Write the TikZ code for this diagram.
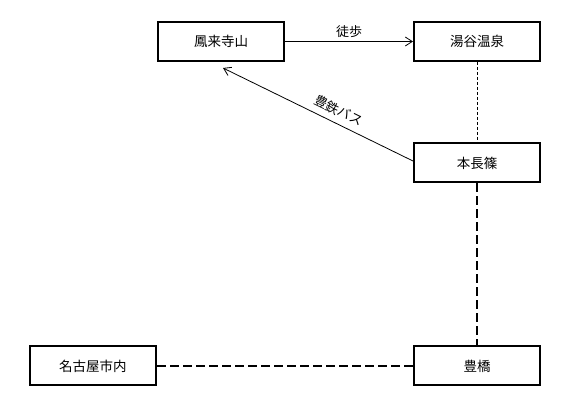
\documentclass[tikz,border=0pt]{standalone}
\usepackage{fontspec}
\setmainfont{Noto Sans CJK JP}
\usetikzlibrary{arrows.meta}

\begin{document}
\begin{tikzpicture}[x=1pt,y=-1pt,->,>={Straight Barb[length=7pt,width=9pt]},
    station/.style={draw,line width=2pt,minimum width=126pt,minimum height=39pt,inner sep=0pt,font=\fontsize{13.5}{16}\selectfont},
    route/.style={line width=0.8pt},
    walkway/.style={-,line width=0.8pt,dash pattern=on 3pt off 2pt},
    railway/.style={-,line width=2.4pt,dash pattern=on 9pt off 4pt}]
      \useasboundingbox (0,0) rectangle (566,411);
      \node[station] (horaiji) at (221,41.5) {鳳来寺山}; \node[station] (yuya) at (477,41.5) {湯谷温泉};
      \node[station] (honnagashino) at (477,163) {本長篠};
      \node[station] (nagoya) at (93,366) {名古屋市内}; \node[station] (toyohashi) at (477,366) {豊橋};
      \coordinate (busend) at (223,68);
      \draw[route] (horaiji) -- node[above,font=\fontsize{13}{15}\selectfont] {徒歩} (yuya);
      \draw[route] ([yshift=2pt]honnagashino.west) -- node[pos=0.42,above=3pt,sloped,font=\fontsize{13}{15}\selectfont] {豊鉄バス} (busend);
      \draw[walkway] (yuya) -- (honnagashino);
      \draw[railway] (honnagashino) -- (toyohashi);
      \draw[railway] (nagoya) -- (toyohashi);
    \end{tikzpicture}
\end{document}
